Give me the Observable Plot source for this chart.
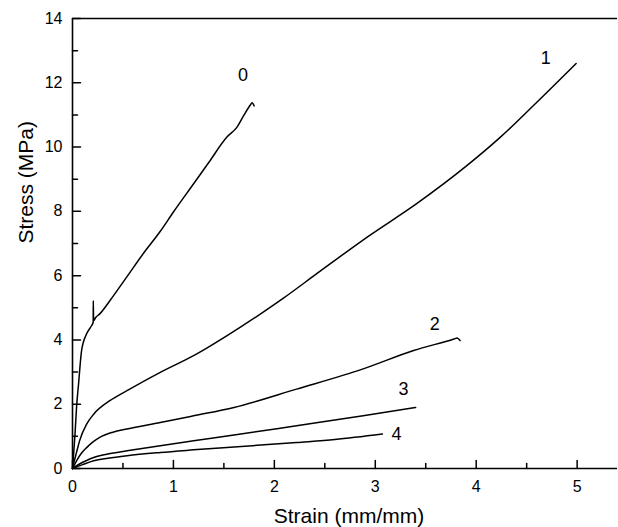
<!DOCTYPE html>
<html><head><meta charset="utf-8">
<script src="https://cdn.jsdelivr.net/npm/d3@7"></script>
<script src="https://cdn.jsdelivr.net/npm/@observablehq/plot@0.6"></script>
<style>body{margin:0;background:#fff} svg{display:block}</style>
</head><body><div id="chart"></div>
<script>
const xDomain = [0, 5.4];
const yDomain = [0, 14];
const xMajor = [0, 1, 2, 3, 4, 5];
const xMinor = [0.5, 1.5, 2.5, 3.5, 4.5];
const yMajor = [0, 2, 4, 6, 8, 10, 12, 14];
const yMinor = [1, 3, 5, 7, 9, 11, 13];
const xTitle = "Strain (mm/mm)";
const yTitle = "Stress (MPa)";

const curve0 = [[0,0],[0.01,0.4],[0.025,1.07],[0.04,1.9],[0.06,2.63],[0.09,3.67],[0.14,4.19],[0.18,4.4],[0.205,4.55],[0.206,5.22],[0.209,4.6],[0.23,4.7],[0.27,4.81],[0.37,5.22],[0.54,5.97],[0.7,6.68],[0.87,7.38],[1.0,7.98],[1.2,8.86],[1.35,9.52],[1.53,10.31],[1.63,10.62],[1.7,11.0],[1.76,11.3],[1.78,11.38],[1.8,11.28]];
const curve1 = [[0,0],[0.01,0.14],[0.04,0.5],[0.07,0.86],[0.14,1.38],[0.21,1.69],[0.37,2.11],[0.54,2.42],[0.87,2.99],[1.2,3.51],[1.66,4.39],[2.09,5.3],[2.42,6.06],[2.92,7.2],[3.41,8.24],[3.91,9.43],[4.24,10.31],[4.57,11.3],[4.99,12.6]];
const curve2 = [[0,0],[0.04,0.24],[0.09,0.48],[0.14,0.65],[0.2,0.82],[0.27,0.97],[0.4,1.13],[0.54,1.23],[0.87,1.43],[1.2,1.64],[1.6,1.9],[2.22,2.47],[2.88,3.1],[3.38,3.67],[3.78,4.03],[3.81,4.06],[3.84,3.98]];
const curve3 = [[0,0],[0.07,0.14],[0.14,0.25],[0.21,0.34],[0.35,0.45],[0.54,0.55],[0.87,0.71],[1.2,0.86],[1.6,1.04],[2.22,1.33],[2.88,1.64],[3.4,1.9]];
const curve4 = [[0,0],[0.1,0.12],[0.21,0.24],[0.35,0.32],[0.54,0.4],[0.87,0.5],[1.2,0.58],[1.6,0.67],[2.22,0.81],[2.6,0.9],[3.07,1.07]];
const curveNames = ["0", "1", "2", "3", "4"];
const labelX = [1.69, 4.69, 3.59, 3.28, 3.21];
const labelY = [12.23, 12.75, 4.5, 2.47, 1.07];

const curves = [curve0, curve1, curve2, curve3, curve4];
const rows = curves.flatMap((c, i) => c.map(([x, y]) => ({series: curveNames[i], x, y})));
const tickShape = {draw(ctx, l) { ctx.moveTo(0, 0); ctx.lineTo(0, -l); }};

const chart = Plot.plot({
  width: 618, height: 527,
  marginLeft: 72, marginRight: 1, marginTop: 18, marginBottom: 59,
  style: {fontFamily: "Arial, 'Liberation Sans', sans-serif", background: "white", color: "black"},
  x: {domain: xDomain},
  y: {domain: yDomain},
  marks: [
    Plot.ruleY([yDomain[0], yDomain[1]], {stroke: "black", strokeWidth: 1.6}),
    Plot.ruleX([xDomain[0]], {stroke: "black", strokeWidth: 1.6}),
    Plot.vector(xMajor, {x: d => d, y: () => yDomain[0], length: 8, anchor: "start", shape: tickShape, stroke: "black", strokeWidth: 1.5}),
    Plot.vector(xMinor, {x: d => d, y: () => yDomain[0], length: 5, anchor: "start", shape: tickShape, stroke: "black", strokeWidth: 1.5}),
    Plot.vector(yMajor, {x: () => xDomain[0], y: d => d, rotate: 90, length: 8, anchor: "start", shape: tickShape, stroke: "black", strokeWidth: 1.5}),
    Plot.vector(yMinor, {x: () => xDomain[0], y: d => d, rotate: 90, length: 5, anchor: "start", shape: tickShape, stroke: "black", strokeWidth: 1.5}),
    Plot.axisX({ticks: xMajor, tickFormat: d => String(d), tickSize: 0, tickPadding: 12, fontSize: 16, label: null}),
    Plot.axisY({ticks: yMajor, tickFormat: d => String(d), tickSize: 0, tickPadding: 10, fontSize: 16, label: null}),
    Plot.line(rows, {x: "x", y: "y", z: "series", stroke: "black", strokeWidth: 1.5, curve: "monotone-x"}),
    Plot.text(curveNames, {x: (d, i) => labelX[i], y: (d, i) => labelY[i], text: d => d, fontSize: 18, fill: "black"}),
    Plot.text([xTitle], {frameAnchor: "bottom", dx: 4, dy: 54, lineAnchor: "bottom", text: d => d, fontSize: 21, fill: "black"}),
    Plot.text([yTitle], {frameAnchor: "left", rotate: -90, dx: -40, lineAnchor: "bottom", text: d => d, fontSize: 21, fill: "black"})
  ]
});
document.getElementById("chart").appendChild(chart);
</script>
</body></html>
